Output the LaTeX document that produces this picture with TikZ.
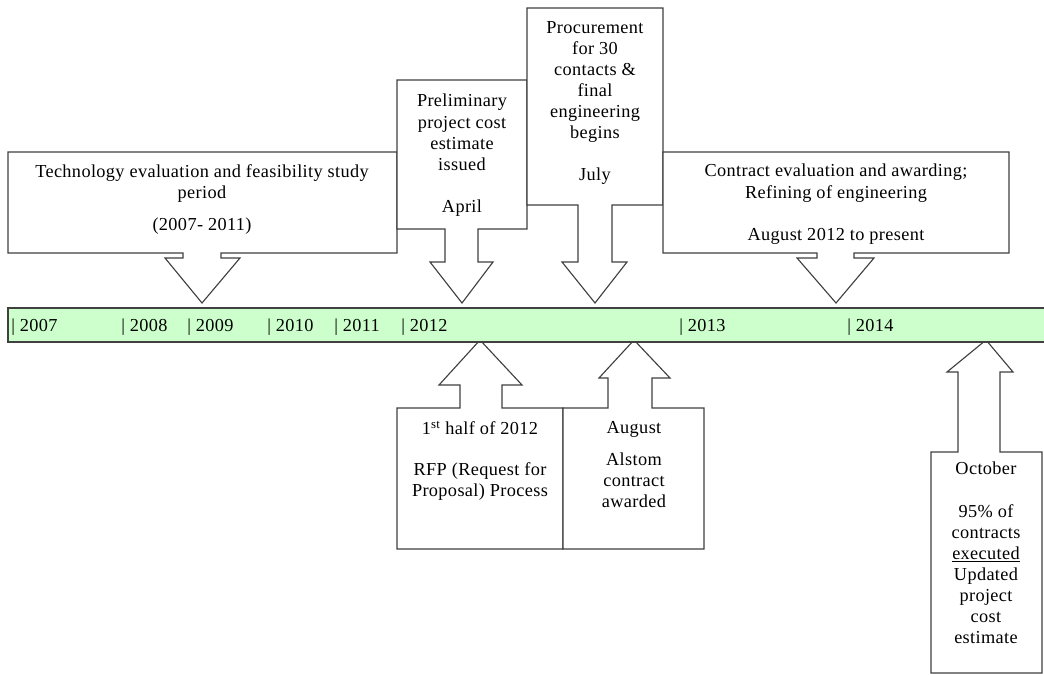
\documentclass[tikz,border=0pt]{standalone}
\usepackage{fontspec}
\setmainfont{Liberation Serif}[LetterSpace=2]
\usetikzlibrary{positioning}
\definecolor{bargreen}{RGB}{204,255,204}
\definecolor{linegray}{RGB}{64,64,64}

\begin{document}
\begin{tikzpicture}[
    x = 0.025cm, y = -0.025cm,
    callout/.style = {draw = linegray, line width = 0.8pt, fill = white},
    lbl/.style = {align = center, font = \fontsize{13}{15}\selectfont, inner sep = 0pt, anchor = north},
    yr/.style = {anchor = west, font = \fontsize{13}{15}\selectfont, inner sep = 0pt}
]
\useasboundingbox (0,0) rectangle (1044,675);

% top callouts
\draw[callout] (8,152) -- (397,152) -- (397,253) -- (221,253) -- (221,258) -- (240,258) -- (202,303) -- (165,258) -- (183,258) -- (183,253) -- (8,253) -- cycle;
\draw[callout] (397,80) -- (527,80) -- (527,229) -- (478,229) -- (478,262) -- (493,262) -- (462,303) -- (430,262) -- (445,262) -- (445,229) -- (397,229) -- cycle;
\draw[callout] (527,8) -- (663,8) -- (663,205) -- (612,205) -- (612,262) -- (627,262) -- (595,303) -- (562,262) -- (578,262) -- (578,205) -- (527,205) -- cycle;
\draw[callout] (663,152) -- (1009,152) -- (1009,253) -- (854,253) -- (854,258) -- (874,258) -- (836,303) -- (797,258) -- (817,258) -- (817,253) -- (663,253) -- cycle;

% bottom callouts
\draw[callout] (397,549) -- (397,408) -- (460,408) -- (460,385) -- (439,385) -- (480,340) -- (522,385) -- (502,385) -- (502,408) -- (563,408) -- (563,549) -- cycle;
\draw[callout] (563,549) -- (563,408) -- (608,408) -- (608,378) -- (599,378) -- (634,340) -- (670,378) -- (652,378) -- (652,408) -- (704,408) -- (704,549) -- cycle;
\draw[callout] (931,673) -- (931,452) -- (958,452) -- (958,372) -- (947,372) -- (986,340) -- (1013,372) -- (1000,372) -- (1000,452) -- (1042,452) -- (1042,673) -- cycle;

% time bar
\fill[bargreen] (8,308) rectangle (1044,342);
\draw[linegray, line width = 1.2pt] (1044,308) -- (8,308) -- (8,342) -- (1044,342);
\foreach \x/\yr in {11/2007, 121/2008, 187/2009, 267/2010, 334/2011, 401/2012, 679/2013, 847/2014}
    \node[yr] (y\yr) at (\x,327) {| \yr};

% texts
\node[lbl] (tech) at (202,164) {Technology evaluation and feasibility study\\ period\\[8pt] (2007- 2011)};
\node[lbl] (prelim) at (462,94) {Preliminary\\ project cost\\ estimate\\ issued\\[15pt] April};
\node[lbl] (procure) at (595,21) {Procurement\\ for 30\\ contacts \&\\ final\\ engineering\\ begins\\[15pt] July};
\node[lbl] (contract) at (836,164) {Contract evaluation and awarding;\\ Refining of engineering\\[15pt] August 2012 to present};
\node[lbl] (rfp) at (480,421) {1\textsuperscript{st} half of 2012\\[14pt] RFP (Request for\\ Proposal) Process};
\node[lbl] (alstom) at (634,421) {August\\[8pt] Alstom\\ contract\\ awarded};
\node[lbl] (october) at (986,462) {October\\[15pt] 95\% of\\ contracts\\ \underline{executed}\\ Updated\\ project\\ cost\\ estimate};
\end{tikzpicture}
\end{document}
